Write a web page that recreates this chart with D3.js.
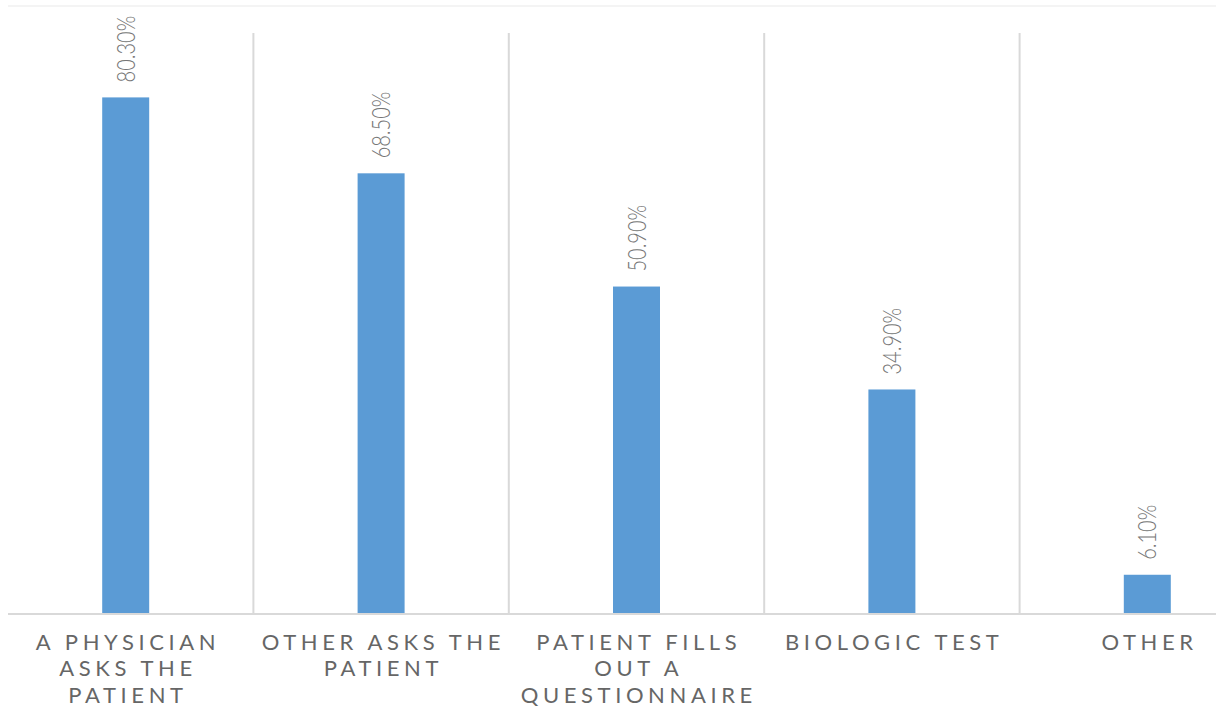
<!DOCTYPE html>
<html>
<head>
<meta charset="utf-8">
<script src="https://cdn.jsdelivr.net/npm/d3@7"></script>
<style>
  html, body { margin: 0; padding: 0; background: #fff; }
  svg { display: block; }
</style>
</head>
<body>
<svg id="chart" width="1216" height="707"></svg>
<script>
const categories = [
  ["A PHYSICIAN", "ASKS THE", "PATIENT"],
  ["OTHER ASKS THE", "PATIENT"],
  ["PATIENT FILLS", "OUT A", "QUESTIONNAIRE"],
  ["BIOLOGIC TEST"],
  ["OTHER"]
];
const values = [80.3, 68.5, 50.9, 34.9, 6.1];
const valueLabels = ["80.30%", "68.50%", "50.90%", "34.90%", "6.10%"];
const yMax = 90;

const svg = d3.select("#chart");
const keys = categories.map((c, i) => i);

const x = d3.scaleBand().domain(keys).range([-2, 1275]).padding(0);
const y = d3.scaleLinear().domain([0, yMax]).range([614, 35]);
const barW = x.bandwidth() * 0.184;

// faint top border
svg.append("line")
  .attr("x1", 8).attr("x2", 1216).attr("y1", 6).attr("y2", 6)
  .attr("stroke", "#f0f0f0").attr("stroke-width", 1.5);

// vertical gridlines at band boundaries
svg.append("g").selectAll("line")
  .data(keys.slice(1))
  .join("line")
  .attr("x1", d => x(d)).attr("x2", d => x(d))
  .attr("y1", y(yMax) - 2).attr("y2", y(0))
  .attr("stroke", "#d9d9d9").attr("stroke-width", 2);

// bars
svg.append("g").selectAll("rect")
  .data(values)
  .join("rect")
  .attr("x", (d, i) => x(i) + (x.bandwidth() - barW) / 2)
  .attr("width", barW)
  .attr("y", d => y(d))
  .attr("height", d => y(0) - y(d))
  .attr("fill", "#5b9bd5");

// baseline axis
svg.append("line")
  .attr("x1", 8).attr("x2", 1216).attr("y1", y(0)).attr("y2", y(0))
  .attr("stroke", "#d9d9d9").attr("stroke-width", 2);

// value labels (rotated)
svg.append("g").selectAll("text")
  .data(values)
  .join("text")
  .attr("transform", (d, i) => `translate(${x(i) + x.bandwidth() / 2},${y(d) - 15}) rotate(-90) scale(0.8,1)`)
  .attr("dy", "0.36em")
  .attr("text-anchor", "start")
  .attr("font-family", "Lato, 'Open Sans', sans-serif")
  .attr("font-weight", 300)
  .attr("font-size", 25)
  .attr("fill", "#767676")
  .text((d, i) => valueLabels[i]);

// category labels
const cat = svg.append("g").selectAll("text")
  .data(categories)
  .join("text")
  .attr("text-anchor", "middle")
  .attr("font-family", "Lato, 'Open Sans', sans-serif")
  .attr("font-weight", 400)
  .attr("font-size", 22)
  .attr("letter-spacing", "4.6px")
  .attr("fill", "#666666");
cat.selectAll("tspan")
  .data((d, i) => d.map(t => ({ t, i })))
  .join("tspan")
  .attr("x", d => x(d.i) + x.bandwidth() / 2 + 2.3)
  .attr("y", (d, j) => 649.5 + j * 26.5)
  .text(d => d.t);
</script>
</body>
</html>
